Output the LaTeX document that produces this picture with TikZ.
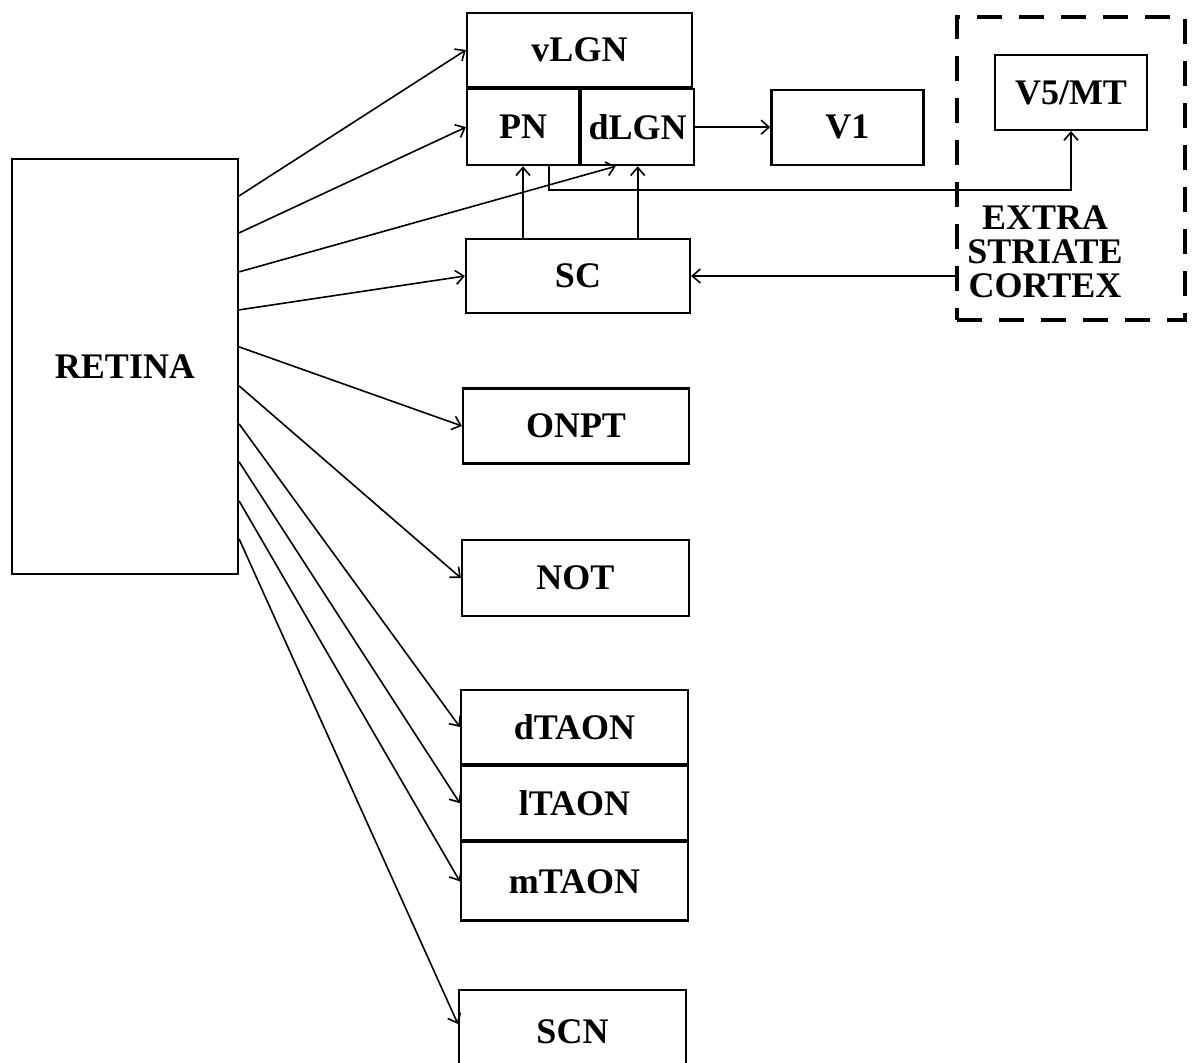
\documentclass[tikz,border=0pt]{standalone}
\usepackage{fontspec}
\setmainfont{Liberation Serif}
\usetikzlibrary{positioning, arrows.meta, calc}

\tikzset{
  caja/.style={draw, line width=1.1pt, inner sep=0pt, font=\fontsize{18}{17}\selectfont\bfseries},
  flecha/.style={->, line width=0.8pt},
}

\begin{document}
\begin{tikzpicture}[x=0.5pt, y=-0.5pt, >={Straight Barb[length=4pt,width=7pt]}]
        \clip (0,0) rectangle (1195,1063);

        % Retina
        \node[caja, minimum width=113pt, minimum height=207.5pt] (retina) at (125,366.5) {RETINA};

        % Cuerpo geniculado y pulvinar
        \node[caja, minimum width=112.5pt, minimum height=37pt] (vlgn) at (579.5,50) {vLGN};
        \node[caja, minimum width=56pt, minimum height=38pt, anchor=north west] (pn) at (vlgn.south west) {PN};
        \node[caja, minimum width=56.5pt, minimum height=38pt, right=0pt of pn] (dlgn) {dLGN};
        \node[caja, minimum width=76pt, minimum height=37.5pt, right=37.5pt of dlgn] (v1) {V1};

        % Corteza extraestriada
        \node[draw, line width=1.6pt, dash pattern=on 12.5pt off 8.5pt, minimum width=114pt, minimum height=151.5pt] (extra) at (1071,168.5) {};
        \node[caja, minimum width=76pt, minimum height=37.5pt] (v5) at (1071,92.5) {V5/MT};
        \node[font=\fontsize{18}{17}\selectfont\bfseries, align=center, inner sep=0pt] (esc) at (1045,252) {EXTRA\\STRIATE\\CORTEX};

        % Colículo superior y núcleos
        \node[caja, minimum width=112pt, minimum height=37pt] (sc) at (578,276) {SC};
        \node[caja, minimum width=113pt, minimum height=37.5pt] (onpt) at (576,426) {ONPT};
        \node[caja, minimum width=113.5pt, minimum height=38pt] (not) at (575.5,578) {NOT};
        \node[caja, minimum width=113.5pt, minimum height=37pt] (dtaon) at (574.5,727) {dTAON};
        \node[caja, minimum width=113.5pt, minimum height=37pt, below=0pt of dtaon] (ltaon) {lTAON};
        \node[caja, minimum width=113.5pt, minimum height=39pt, below=0pt of ltaon] (mtaon) {mTAON};
        \node[caja, minimum width=113.5pt, minimum height=42pt] (scn) at (572.5,1032) {SCN};

        % Proyecciones de la retina
        \coordinate (dlgnin) at ([xshift=-11pt]dlgn.south);
        \coordinate (scnin) at ([yshift=4pt]scn.west);
        \foreach \dy/\dst in {19/vlgn.west, 37.5/pn.west, 57/dlgnin, 76/sc.west, 94.5/onpt.west,
                              114/not.west, 133/dtaon.west, 152/ltaon.west, 171.5/mtaon.west, 190.5/scnin}
            \draw[flecha] ([yshift=-\dy pt]retina.north east) -- (\dst);

        % Demás conexiones
        \draw[flecha] (dlgn) -- (v1);
        \draw[flecha] (sc.north -| pn.south) -- (pn.south);
        \draw[flecha] (sc.north -| dlgn.south) -- (dlgn.south);
        \draw[flecha] ([xshift=13pt]pn.south) -- ++(0,-12pt) -| (v5.south);
        \draw[flecha] (extra.west |- sc.east) -- (sc.east);
\end{tikzpicture}
\end{document}
